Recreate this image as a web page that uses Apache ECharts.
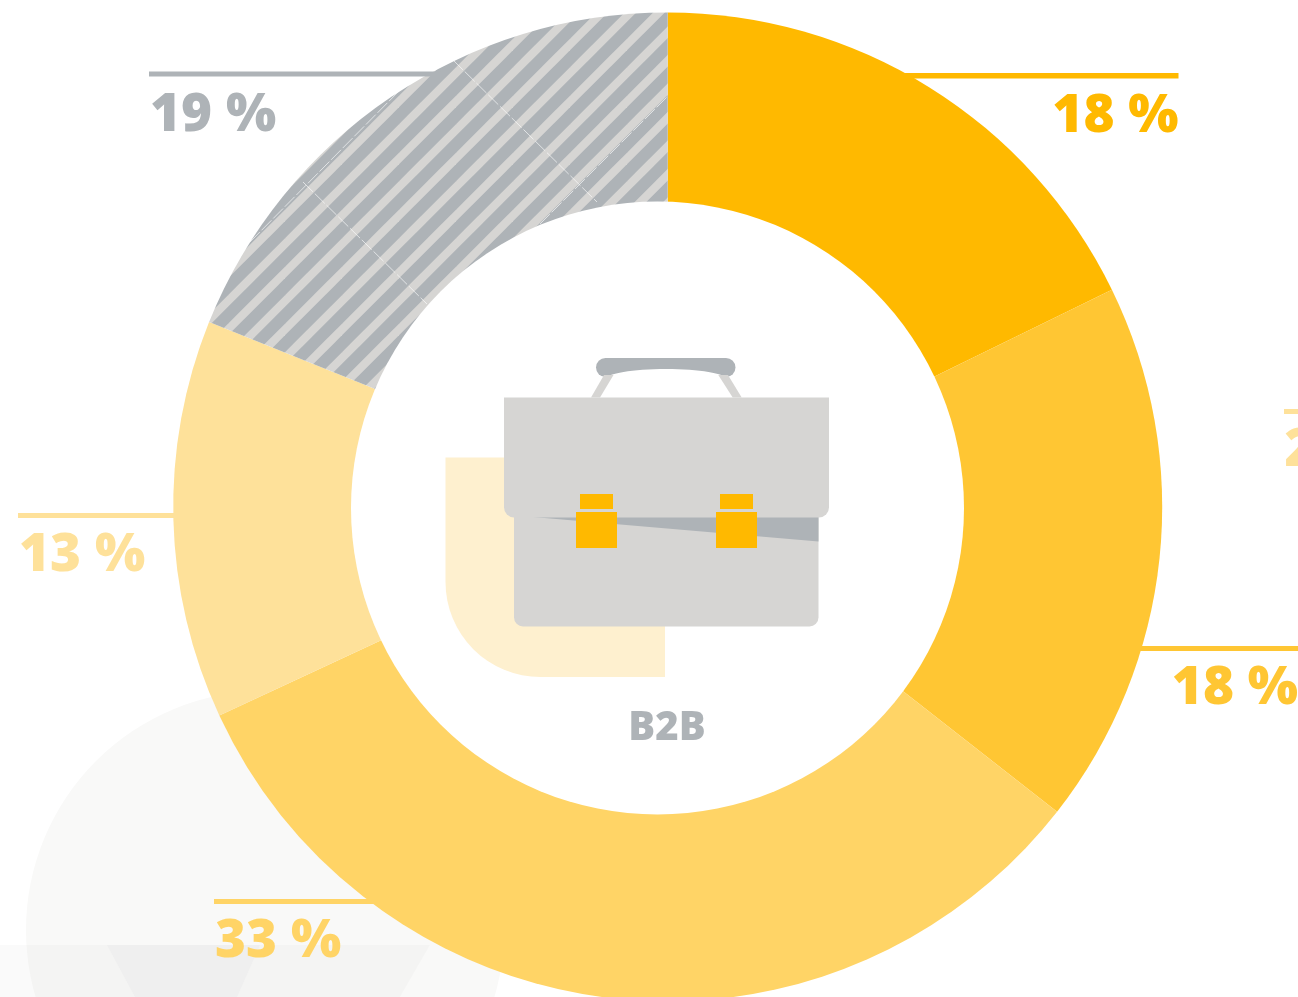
<!DOCTYPE html>
<html>
<head>
<meta charset="utf-8">
<style>html,body{margin:0;padding:0;background:#fff;overflow:hidden}#c{width:1298px;height:997px}</style>
<script src="https://cdn.jsdelivr.net/npm/echarts@6/dist/echarts.min.js"></script>
</head>
<body>
<div id="c"></div>
<script>
const categories = ['A', 'B', 'C', 'D', 'E'];
const arcShares = [17.76, 17.81, 32.5, 13.03, 18.9];
const printedShares = [18, 18, 33, 13, 19];
const sliceColors = ['#ffb900', '#ffc633', '#ffd466', '#fee19a', '#d6d5d3'];
const labelColors = ['#ffb900', '#ffc633', '#ffd466', '#fee19a', '#aeb3b7'];
const centerTitle = 'B2B';

const FONT = '"Open Sans"';
const labelSpots = [
  {x: 1178.5, y: 117, align: 'right'},
  {x: 1298, y: 689, align: 'right'},
  {x: 215, y: 942, align: 'left'},
  {x: 19, y: 556, align: 'left'},
  {x: 150, y: 116, align: 'left'}
];
const GREY = '#aeb3b7', LIGHT = '#d6d5d3', GOLD = '#ffb900';
const rect = (x, y, w, h, fill, z, r) => ({type: 'rect', silent: true, z, shape: {x, y, width: w, height: h, r: r || 0}, style: {fill}});
const poly = (points, fill, z) => ({type: 'polygon', silent: true, z, shape: {points}, style: {fill}});
const seam = (x1, y1, x2, y2) => ({type: 'line', silent: true, z: 3, shape: {x1, y1, x2, y2}, style: {stroke: '#fff', lineWidth: 0.7, opacity: 0.9, lineDash: [14, 2.5]}});

// diagonal stripe tile for the hatched slice
function stripeTile() {
  const c = document.createElement('canvas');
  c.width = c.height = 57;
  const g = c.getContext('2d');
  g.fillStyle = GREY;
  g.fillRect(0, 0, 57, 57);
  g.strokeStyle = LIGHT;
  g.lineWidth = 8.3;
  for (let k = -2; k < 8; k++) {
    const s = 16 + 28.5 * k;
    g.beginPath();
    g.moveTo(s + 20, -20);
    g.lineTo(s - 100, 100);
    g.stroke();
  }
  return c;
}

const graphics = [
  // faint background shapes
  {type: 'circle', silent: true, z: 0, shape: {cx: 265, cy: 930, r: 239}, style: {fill: '#f9f9f8'}},
  poly([[0, 945], [430, 945], [400, 997], [0, 997]], 'rgba(0,0,0,0.02)', 0),
  poly([[107, 945], [260, 945], [237, 997], [135, 997]], '#efefef', 0),
  // leader rules
  poly([[149, 71.5], [441, 71.5], [434, 76.5], [149, 76.5]], GREY, 3),
  rect(880, 73, 298.5, 5.5, '#ffb900', 0),
  rect(1100, 646, 198, 5, '#ffc633', 0),
  rect(18, 513, 170, 5, '#fee19a', 0),
  rect(214, 899, 180, 5, '#ffd466', 0),
  rect(1284, 409, 14, 5, '#fee19a', 0),
  {type: 'text', silent: true, z: 0, style: {x: 1284.5, y: 451, text: '2', fill: '#fee19a', font: '800 53px ' + FONT, textVerticalAlign: 'middle'}},
  // hatch seams
  seam(453, 60, 597, 202), seam(303, 182, 427, 304), seam(250, 242, 403, 87), seam(540, 224, 667, 97),
  // hole (offset from the outer ring)
  {type: 'circle', silent: true, z: 4, shape: {cx: 657.5, cy: 508, r: 306.5}, style: {fill: '#fff'}},
  // briefcase
  rect(445.5, 457.5, 219.5, 219.5, '#fef0cf', 6, [0, 0, 0, 95]),
  rect(596, 358, 139.5, 19, GREY, 7, 9.5),
  {type: 'ellipse', silent: true, z: 7, shape: {cx: 666, cy: 379, rx: 60, ry: 10}, style: {fill: '#fff'}},
  poly([[591, 397.5], [600, 397.5], [613.5, 375], [604, 375]], LIGHT, 8),
  poly([[741.7, 397.5], [732.7, 397.5], [718.3, 375], [728, 375]], LIGHT, 8),
  rect(514, 510, 304.5, 116.5, LIGHT, 8, [0, 0, 9, 9]),
  poly([[533, 517], [818.5, 517], [818.5, 541.5]], GREY, 8),
  rect(504, 397.5, 325, 120, LIGHT, 9, [0, 0, 10, 10]),
  rect(580, 494, 33, 15, GOLD, 10),
  rect(576, 512, 41, 36, GOLD, 10),
  rect(720, 494, 33, 15, GOLD, 10),
  rect(716, 512, 41, 36, GOLD, 10),
  {type: 'text', silent: true, z: 10, style: {x: 667, y: 729, text: centerTitle, fill: GREY, font: '800 40px ' + FONT, textAlign: 'center', textVerticalAlign: 'middle'}}
];

const chart = echarts.init(document.getElementById('c'), null, {renderer: 'canvas'});
chart.setOption({
  animation: false,
  graphic: {elements: graphics},
  series: [{
    type: 'pie',
    silent: true,
    center: [667.7, 506.9],
    radius: [0, 494.5],
    startAngle: 90,
    clockwise: true,
    avoidLabelOverlap: false,
    labelLine: {show: false},
    emphasis: {disabled: true},
    label: {show: true, fontFamily: FONT, fontWeight: 800, fontSize: 53, position: 'outside',
      formatter: p => printedShares[p.dataIndex] + ' %'},
    labelLayout: p => ({x: labelSpots[p.dataIndex].x, y: labelSpots[p.dataIndex].y, align: labelSpots[p.dataIndex].align, verticalAlign: 'middle'}),
    data: categories.map((name, i) => ({
      name,
      value: arcShares[i],
      label: {color: labelColors[i]},
      itemStyle: {color: i === 4 ? {image: stripeTile(), repeat: 'repeat'} : sliceColors[i]}
    }))
  }]
});
</script>
</body>
</html>
